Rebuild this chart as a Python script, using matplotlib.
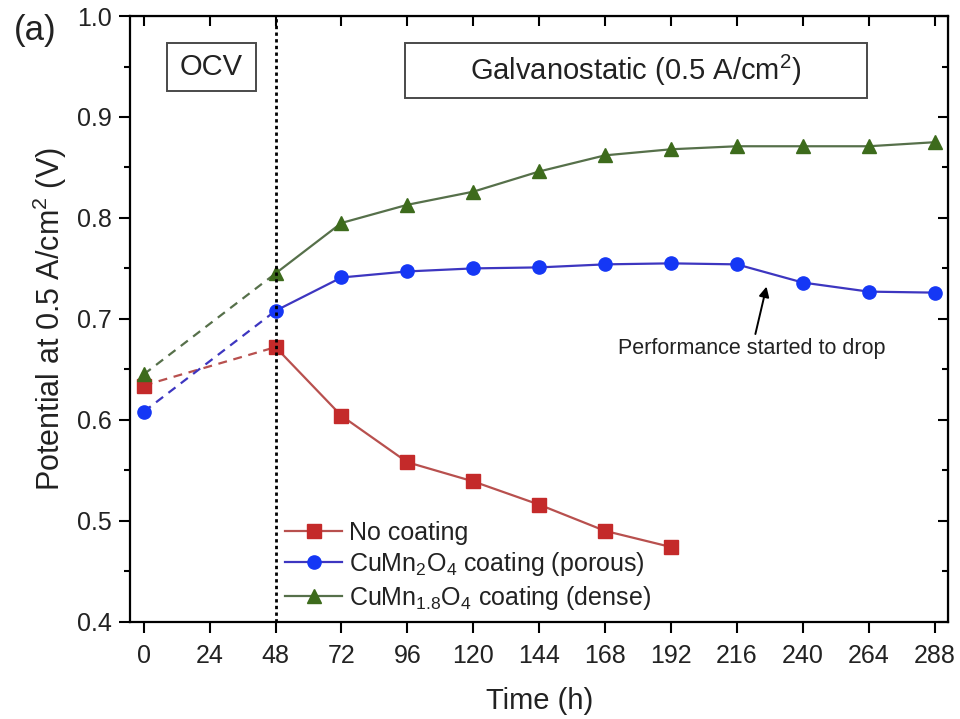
import matplotlib
matplotlib.use("Agg")
import matplotlib.pyplot as plt
from matplotlib.patches import Rectangle
from matplotlib.ticker import MultipleLocator

plt.rcParams["font.family"] = ["Liberation Sans", "DejaVu Sans"]
plt.rcParams["mathtext.fontset"] = "custom"
plt.rcParams["mathtext.rm"] = "Liberation Sans"
plt.rcParams["mathtext.it"] = "Liberation Sans:italic"

COLOR_RED_MARK = "#c42a2a"
COLOR_RED_LINE = "#b8504e"
COLOR_BLUE_MARK = "#1537f5"
COLOR_BLUE_LINE = "#3d36c0"
COLOR_GREEN_MARK = "#3d6b1c"
COLOR_GREEN_LINE = "#56704a"
COLOR_BOX = "#4a4a4a"

# time in hours, potential at 0.5 A/cm2 in volts
time_no_coating = [0, 48, 72, 96, 120, 144, 168, 192]
v_no_coating = [0.634, 0.672, 0.604, 0.558, 0.539, 0.516, 0.490, 0.474]

time_porous = [0, 48, 72, 96, 120, 144, 168, 192, 216, 240, 264, 288]
v_porous = [0.608, 0.708, 0.741, 0.747, 0.750, 0.751, 0.754, 0.755, 0.754, 0.736, 0.727, 0.726]

time_dense = [0, 48, 72, 96, 120, 144, 168, 192, 216, 240, 264, 288]
v_dense = [0.645, 0.745, 0.795, 0.813, 0.826, 0.846, 0.862, 0.868, 0.871, 0.871, 0.871, 0.875]

series = [
    (time_no_coating, v_no_coating, "s", COLOR_RED_MARK, COLOR_RED_LINE, "No coating"),
    (time_porous, v_porous, "o", COLOR_BLUE_MARK, COLOR_BLUE_LINE,
     "CuMn$_2$O$_4$ coating (porous)"),
    (time_dense, v_dense, "^", COLOR_GREEN_MARK, COLOR_GREEN_LINE,
     "CuMn$_{1.8}$O$_4$ coating (dense)"),
]

ocv_end = 48
drop_point = (226.8, 0.732)

fig = plt.figure(figsize=(9.6, 7.19), dpi=100)
ax = fig.add_axes([0.1354, 0.1353, 0.8524, 0.8424])

for t, v, marker, mcolor, lcolor, label in series:
    # OCV period joined with dashes, galvanostatic period with solid lines
    ax.plot(t[:2], v[:2], ls=(0, (4, 3)), color=lcolor, lw=1.6)
    ax.plot(t[1:], v[1:], ls="-", color=lcolor, lw=1.6)
    ax.plot(t, v, ls="none", marker=marker, ms=9.5, color=mcolor)
    ax.plot([], [], ls="-", lw=1.6, color=lcolor, marker=marker, ms=9.5,
            markerfacecolor=mcolor, markeredgecolor=mcolor, label=label)

ax.axvline(ocv_end, color="black", ls=(0, (1.2, 1.2)), lw=2.0)

ax.set_xlim(-5, 293)
ax.set_ylim(0.4, 1.0)
ax.set_xticks(range(0, 289, 24))
ax.yaxis.set_major_locator(MultipleLocator(0.1))
ax.yaxis.set_minor_locator(MultipleLocator(0.05))
ax.tick_params(which="major", direction="out", length=8, width=1.5,
               labelsize=18, pad=5, labelcolor="#222222")
ax.tick_params(axis="x", which="major", pad=8)
ax.tick_params(which="minor", direction="out", length=4, width=1.5)
for side in ax.spines.values():
    side.set_linewidth(1.6)

# inward ticks mirrored on the top and right spines
ax_top = ax.secondary_xaxis("top")
ax_top.set_xticks(range(0, 289, 24))
ax_top.tick_params(direction="in", length=7, width=1.5, labeltop=False)
ax_right = ax.secondary_yaxis("right")
ax_right.yaxis.set_major_locator(MultipleLocator(0.1))
ax_right.yaxis.set_minor_locator(MultipleLocator(0.05))
ax_right.tick_params(which="major", direction="in", length=7, width=1.5, labelright=False)
ax_right.tick_params(which="minor", direction="in", length=4, width=1.5)

ax.set_xlabel("Time (h)", fontsize=21, labelpad=14, color="#222222")
ax.set_ylabel("Potential at 0.5 A/cm$^2$ (V)", fontsize=22, labelpad=6, color="#222222")

# labelled boxes for the two test periods
ax.add_patch(Rectangle((0.0452, 0.876), 0.1088, 0.0794, transform=ax.transAxes,
                       facecolor="white", edgecolor=COLOR_BOX, lw=1.4, zorder=3))
ax.text(0.0996, 0.9157, "OCV", transform=ax.transAxes, ha="center", va="center",
        fontsize=21, color="#222222", zorder=4)
ax.add_patch(Rectangle((0.3361, 0.8641), 0.5646, 0.0908, transform=ax.transAxes,
                       facecolor="white", edgecolor=COLOR_BOX, lw=1.4, zorder=3))
ax.text(0.6183, 0.9095, "Galvanostatic (0.5 A/cm$^2$)", transform=ax.transAxes,
        ha="center", va="center", fontsize=21, color="#222222", zorder=4)

ax.annotate("Performance started to drop", xy=drop_point, xytext=(221.5, 0.6705),
            fontsize=15.5, ha="center", va="center", color="#222222",
            arrowprops=dict(arrowstyle="-|>", color="black", lw=1.4,
                            mutation_scale=15, shrinkA=1, shrinkB=0))

fig.text(0.014, 0.958, "(a)", fontsize=25, ha="left", va="center", color="#222222")

ax.legend(loc="lower left", bbox_to_anchor=(0.171, -0.008), frameon=False,
          fontsize=18, handlelength=2.3, handletextpad=0.25, labelspacing=0.22,
          borderaxespad=0.2, labelcolor="#222222")

fig.savefig("out.png", dpi=100)
